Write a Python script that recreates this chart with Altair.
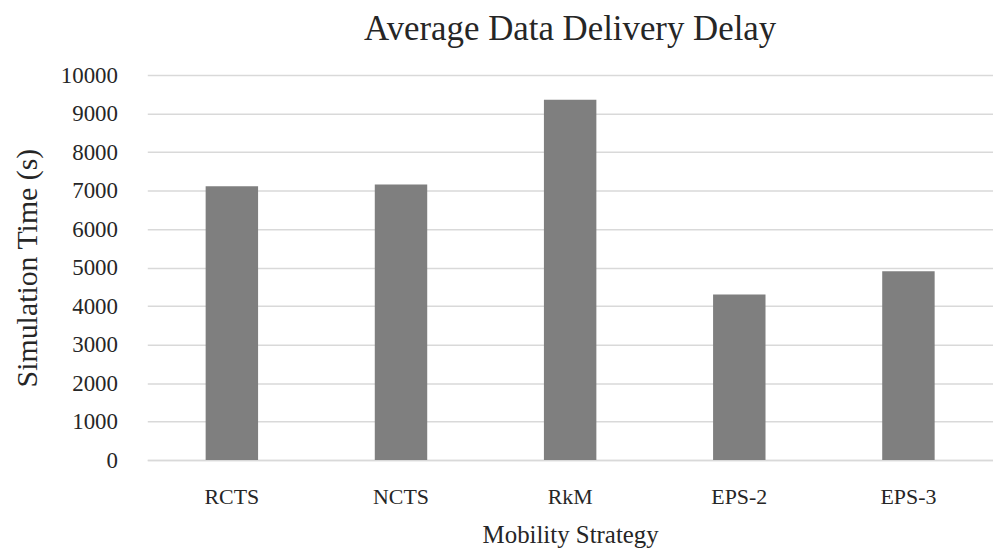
import altair as alt
import pandas as pd

strategies = ["RCTS", "NCTS", "RkM", "EPS-2", "EPS-3"]
delays = [7110, 7155, 9360, 4300, 4905]
y_ticks = [0, 1000, 2000, 3000, 4000, 5000, 6000, 7000, 8000, 9000, 10000]

df = pd.DataFrame({"strategy": strategies, "delay": delays})

FONT = "Liberation Serif"
TXT = "#262626"

chart = alt.Chart(df).mark_bar(color="#7f7f7f").encode(
    x=alt.X(
        "strategy:N",
        sort=strategies,
        scale=alt.Scale(paddingInner=0.69, paddingOuter=0.345),
        axis=alt.Axis(
            title="Mobility Strategy",
            labelAngle=0,
            ticks=False,
            domain=True,
            domainColor="#d9d9d9",
            domainWidth=1.5,
            labelFont=FONT,
            labelFontSize=22,
            labelColor=TXT,
            labelPadding=27,
            titleFont=FONT,
            titleFontSize=25,
            titleFontWeight="normal",
            titleColor=TXT,
            titlePadding=15,
        ),
    ),
    y=alt.Y(
        "delay:Q",
        scale=alt.Scale(domain=[0, 10000], nice=False),
        axis=alt.Axis(
            title="Simulation Time (s)",
            values=y_ticks,
            format="d",
            ticks=False,
            domain=False,
            grid=True,
            gridColor="#d9d9d9",
            gridWidth=1.5,
            labelFont=FONT,
            labelFontSize=23,
            labelColor=TXT,
            labelPadding=30,
            titleFont=FONT,
            titleFontSize=30,
            titleFontWeight="normal",
            titleColor=TXT,
            titlePadding=18,
        ),
    ),
).properties(
    width=850,
    height=387,
    title=alt.TitleParams(
        "Average Data Delivery Delay",
        font=FONT,
        fontSize=35,
        fontWeight="normal",
        color=TXT,
        anchor="middle",
        offset=17,
    ),
    autosize=alt.AutoSizeParams(type="none"),
    padding={"left": 140, "top": 66, "right": 0, "bottom": 90},
).configure_view(stroke=None)

chart.save("out.html", embed_options={"renderer": "svg", "actions": False})
